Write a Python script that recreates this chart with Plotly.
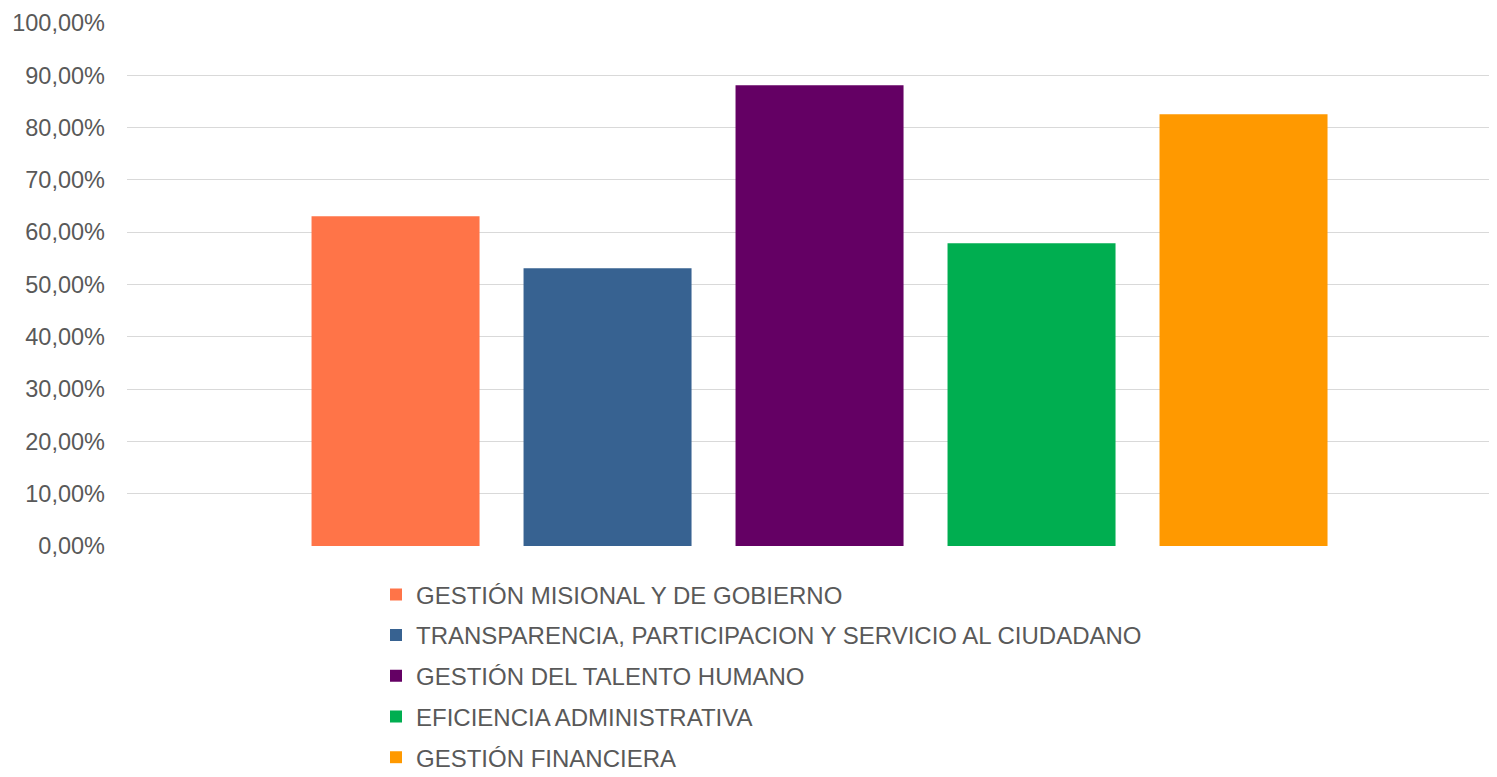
import plotly.graph_objects as go

series_names = [
    "GESTIÓN MISIONAL Y DE GOBIERNO",
    "TRANSPARENCIA, PARTICIPACION Y SERVICIO AL CIUDADANO",
    "GESTIÓN DEL TALENTO HUMANO",
    "EFICIENCIA ADMINISTRATIVA",
    "GESTIÓN FINANCIERA",
]
series_values = [0.6304, 0.5310, 0.8809, 0.5788, 0.8254]
series_colors = ["#FF7448", "#376291", "#640064", "#00AE50", "#FF9900"]
category = [""]

fig = go.Figure()
for i, (name, val, col) in enumerate(zip(series_names, series_values, series_colors)):
    fig.add_trace(go.Bar(
        x=category, y=[val], name=name,
        marker=dict(color=col, line=dict(width=0)),
        legendgroup=f"g{i}",
        hoverinfo="skip",
    ))

plot_left, plot_top, plot_bottom, fig_w, fig_h = 119, 14.5, 537.7, 1489, 769
plot_h = plot_bottom - plot_top
plot_w = fig_w - plot_left

fig.update_layout(
    width=fig_w, height=fig_h,
    paper_bgcolor="white", plot_bgcolor="white",
    margin=dict(l=plot_left, r=0, t=plot_top, b=fig_h - plot_bottom, autoexpand=False),
    barmode="group",
    bargap=0.2263,
    bargroupgap=0.2075,
    separators=",.",
    font=dict(family="Liberation Sans, Arial, sans-serif", color="#595959"),
    showlegend=True,
    legend=dict(
        orientation="v",
        x=(368 - plot_left) / plot_w, xanchor="left",
        y=-(564 - plot_bottom) / plot_h, yanchor="top",
        font=dict(size=24, color="#595959"),
        tracegroupgap=6.5,
        traceorder="grouped",
        bgcolor="rgba(0,0,0,0)",
    ),
    xaxis=dict(
        type="category",
        range=[-0.5055, 0.4945],
        showticklabels=False,
        showgrid=False,
        zeroline=False,
        showline=False,
        ticks="",
        fixedrange=True,
    ),
    yaxis=dict(
        range=[0, 1.0],
        dtick=0.1,
        tick0=0,
        tickformat=".2%",
        showgrid=True,
        gridcolor="#D9D9D9",
        gridwidth=1.3,
        zeroline=False,
        showline=False,
        ticks="",
        ticklabelstandoff=21,
        tickfont=dict(size=23.5, color="#595959"),
        fixedrange=True,
    ),
)

fig.write_html("out.html")
